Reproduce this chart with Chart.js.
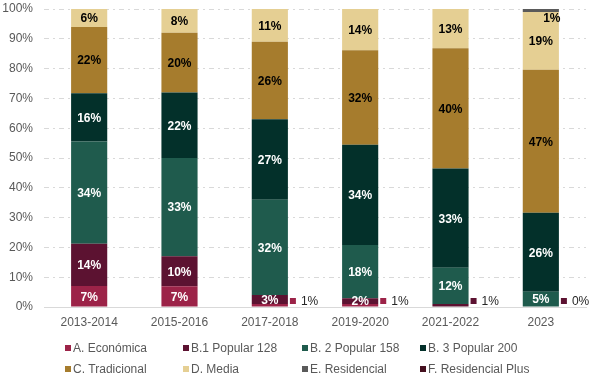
<!DOCTYPE html>
<html><head><meta charset="utf-8">
<script src="https://cdn.jsdelivr.net/npm/chart.js@4.4.1/dist/chart.umd.min.js"></script>
<style>html,body{margin:0;padding:0;background:#fff;overflow:hidden}</style>
</head><body>
<canvas id="c" width="591" height="377"></canvas>
<script>
// ---- data (percent labels as shown; Excel 100% stacked normalizes per category)
const categories = ['2013-2014', '2015-2016', '2017-2018', '2019-2020', '2021-2022', '2023'];
const seriesNames = ['A. Económica', 'B.1 Popular 128', 'B. 2 Popular 158', 'B. 3 Popular 200',
                     'C. Tradicional', 'D. Media', 'E. Residencial', 'F. Residencial Plus'];
const economica       = [7, 7, 1, 1, null, null];
const popular128      = [14, 10, 3, 2, 1, 0];
const popular158      = [34, 33, 32, 18, 12, 5];
const popular200      = [16, 22, 27, 34, 33, 26];
const tradicional     = [22, 20, 26, 32, 40, 47];
const media           = [6, 8, 11, 14, 13, 19];
const residencial     = [null, null, null, null, null, 1];
const residencialPlus = [null, null, null, null, null, null];
const yTickValues = [0, 10, 20, 30, 40, 50, 60, 70, 80, 90, 100];

// ---- styles
const colors = ['#9c2348', '#5c1231', '#1f5b4d', '#03302a', '#a67c2d', '#e5cf93', '#5a5a5a', '#45101f'];
const labelColors = ['#ffffff', '#ffffff', '#ffffff', '#ffffff', '#000000', '#000000', '#000000', '#ffffff'];
const FONT = 'Liberation Sans, Arial, sans-serif';

const rawSeries = [economica, popular128, popular158, popular200, tradicional, media, residencial, residencialPlus];
const totals = categories.map((_, j) => rawSeries.reduce((s, arr) => s + (arr[j] == null ? 0 : arr[j]), 0));
const shares = rawSeries.map(arr => arr.map((v, j) => v == null ? null : v / totals[j] * 100));

const labelsPlugin = {
  id: 'segLabels',
  afterDatasetsDraw(chart) {
    const ctx = chart.ctx;
    const area = chart.chartArea;
    ctx.save();
    rawSeries.forEach((arr, i) => {
      const meta = chart.getDatasetMeta(i);
      meta.data.forEach((el, j) => {
        const v = arr[j];
        if (v == null) return;
        const p = el.getProps(['x', 'y', 'base', 'width'], true);
        const top = Math.min(p.y, p.base), bot = Math.max(p.y, p.base);
        const cy = (top + bot) / 2;
        const txt = Math.round(v) + '%';
        if (v >= 2) {
          ctx.font = 'bold 12px ' + FONT;
          ctx.fillStyle = labelColors[i];
          ctx.textAlign = 'center';
          ctx.textBaseline = 'middle';
          ctx.fillText(txt, p.x, cy + 1);
        } else if (i >= 6) {
          ctx.font = 'bold 12px ' + FONT;
          ctx.fillStyle = '#000000';
          ctx.textAlign = 'center';
          ctx.textBaseline = 'middle';
          ctx.fillText(txt, p.x + 11, bot + 7);
        } else {
          const right = p.x + p.width / 2;
          const ty = Math.min(cy, area.bottom - 5);
          ctx.fillStyle = colors[i];
          ctx.fillRect(right + 2, ty - 4, 6, 6);
          ctx.font = '12px ' + FONT;
          ctx.fillStyle = '#262626';
          ctx.textAlign = 'left';
          ctx.textBaseline = 'middle';
          ctx.fillText(txt, right + 13, ty);
        }
      });
    });
    ctx.restore();
  }
};

const legendPlugin = {
  id: 'gridLegend',
  afterDraw(chart) {
    const ctx = chart.ctx;
    const cols = [65, 183, 302, 420];
    const rows = [348, 369];
    ctx.save();
    ctx.font = '12px ' + FONT;
    ctx.textAlign = 'left';
    ctx.textBaseline = 'middle';
    seriesNames.forEach((name, k) => {
      const x = cols[k % 4], y = rows[Math.floor(k / 4)];
      ctx.fillStyle = colors[k];
      ctx.fillRect(x, y - 3, 6, 6);
      ctx.fillStyle = '#595959';
      ctx.fillText(name, x + 8, y + 1);
    });
    ctx.restore();
  }
};

new Chart(document.getElementById('c'), {
  type: 'bar',
  data: {
    labels: categories,
    datasets: seriesNames.map((name, i) => ({
      label: name,
      data: shares[i],
      backgroundColor: colors[i],
      borderWidth: 0,
      barPercentage: 1,
      categoryPercentage: 0.4
    }))
  },
  options: {
    responsive: false,
    animation: false,
    devicePixelRatio: 1,
    layout: { padding: { top: 9, right: 5, left: 0, bottom: 0 } },
    plugins: { legend: { display: false }, tooltip: { enabled: false } },
    scales: {
      x: {
        stacked: true,
        grid: { display: false, drawTicks: false },
        border: { display: true, color: '#d9d9d9', width: 1 },
        ticks: { font: { family: FONT, size: 12 }, color: '#595959', padding: 8, maxRotation: 0 },
        afterFit(s) { s.height = 70; }
      },
      y: {
        stacked: true,
        min: 0, max: 100,
        afterBuildTicks(s) { s.ticks = yTickValues.map(v => ({ value: v })); },
        grid: { color: '#d9d9d9', drawTicks: true, tickLength: 11, tickColor: 'rgba(0,0,0,0)', lineWidth: 1 },
        border: { display: false, dash: [5, 4, 2, 4] },
        ticks: { font: { family: FONT, size: 12 }, color: '#595959', padding: 0,
                 callback: v => v + '%' },
        afterFit(s) { s.width = 44; }
      }
    }
  },
  plugins: [labelsPlugin, legendPlugin]
});
</script>
</body></html>
